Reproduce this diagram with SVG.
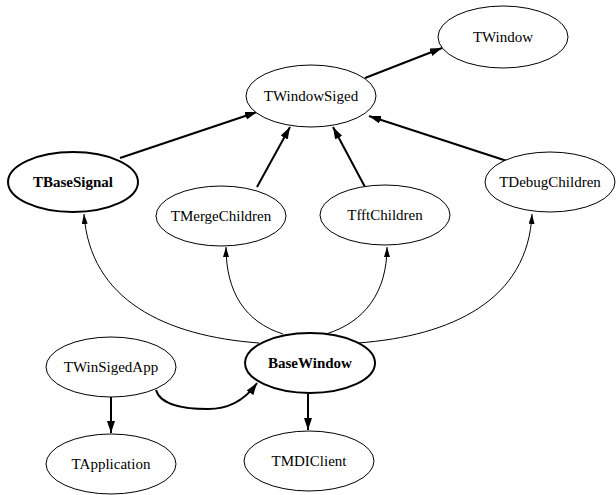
<svg xmlns="http://www.w3.org/2000/svg" width="616" height="495" viewBox="0 0 616 495">
<style>
.n ellipse{fill:#fff;stroke:#000;stroke-width:1}
.n.b ellipse{stroke-width:2}
.n text{font-family:"Liberation Serif","Times New Roman",serif;font-size:15px;text-anchor:middle;fill:#000}
.n.b text{font-weight:bold}
.e{fill:none;stroke:#000;stroke-width:1}
.e.t{stroke-width:2}
</style>
<defs>
<marker id="a" markerUnits="userSpaceOnUse" markerWidth="13" markerHeight="9" refX="12" refY="4" orient="auto">
<path d="M0,0 L12,4 L0,8 z" fill="#000"/>
</marker>
<marker id="s" markerUnits="userSpaceOnUse" markerWidth="11" markerHeight="7" refX="10" refY="3" orient="auto">
<path d="M0,0 L10,3 L0,6 z" fill="#000"/>
</marker>
</defs>
<rect width="616" height="495" fill="#fff"/>
<g id="edges">
<path class="e t" d="M365,78 L442,48" marker-end="url(#a)"/>
<path class="e t" d="M120,158 L257,112" marker-end="url(#a)"/>
<path class="e t" d="M257,187 L290,127" marker-end="url(#a)"/>
<path class="e t" d="M365,187 L333,127" marker-end="url(#a)"/>
<path class="e t" d="M507,161 L369,116" marker-end="url(#a)"/>
<path class="e" d="M259,343 C165,336 90,300 84,214" marker-end="url(#s)"/>
<path class="e" d="M283,334 C245,322 226,292 226,247" marker-end="url(#s)"/>
<path class="e" d="M326,334 C365,322 387,292 387,247" marker-end="url(#s)"/>
<path class="e" d="M358,343 C452,336 528,300 532,214" marker-end="url(#s)"/>
<path class="e t" d="M156,390 C160,405 185,409 208,409 C228,409 245,400 257,383" marker-end="url(#a)"/>
<path class="e t" d="M111,397 L111,433" marker-end="url(#a)"/>
<path class="e t" d="M308,394 L308,430" marker-end="url(#a)"/>
</g>
<g id="TWindow" class="n"><ellipse cx="503" cy="37" rx="65" ry="31"/><text x="503" y="42">TWindow</text></g>
<g id="TWindowSiged" class="n"><ellipse cx="311" cy="96" rx="65" ry="31"/><text x="311" y="101">TWindowSiged</text></g>
<g id="TBaseSignal" class="n b"><ellipse cx="73" cy="182" rx="65" ry="30"/><text x="73" y="187">TBaseSignal</text></g>
<g id="TMergeChildren" class="n"><ellipse cx="221" cy="216" rx="65" ry="30"/><text x="221" y="221">TMergeChildren</text></g>
<g id="TfftChildren" class="n"><ellipse cx="385" cy="215" rx="65" ry="30"/><text x="385" y="220">TfftChildren</text></g>
<g id="TDebugChildren" class="n"><ellipse cx="550" cy="182" rx="65" ry="30"/><text x="550" y="187">TDebugChildren</text></g>
<g id="BaseWindow" class="n b"><ellipse cx="310" cy="363" rx="65" ry="30"/><text x="310" y="368">BaseWindow</text></g>
<g id="TWinSigedApp" class="n"><ellipse cx="111" cy="367" rx="65" ry="30"/><text x="111" y="372">TWinSigedApp</text></g>
<g id="TApplication" class="n"><ellipse cx="111" cy="464" rx="65" ry="30"/><text x="111" y="469">TApplication</text></g>
<g id="TMDIClient" class="n"><ellipse cx="309" cy="461" rx="65" ry="30"/><text x="309" y="466">TMDIClient</text></g>
</svg>
